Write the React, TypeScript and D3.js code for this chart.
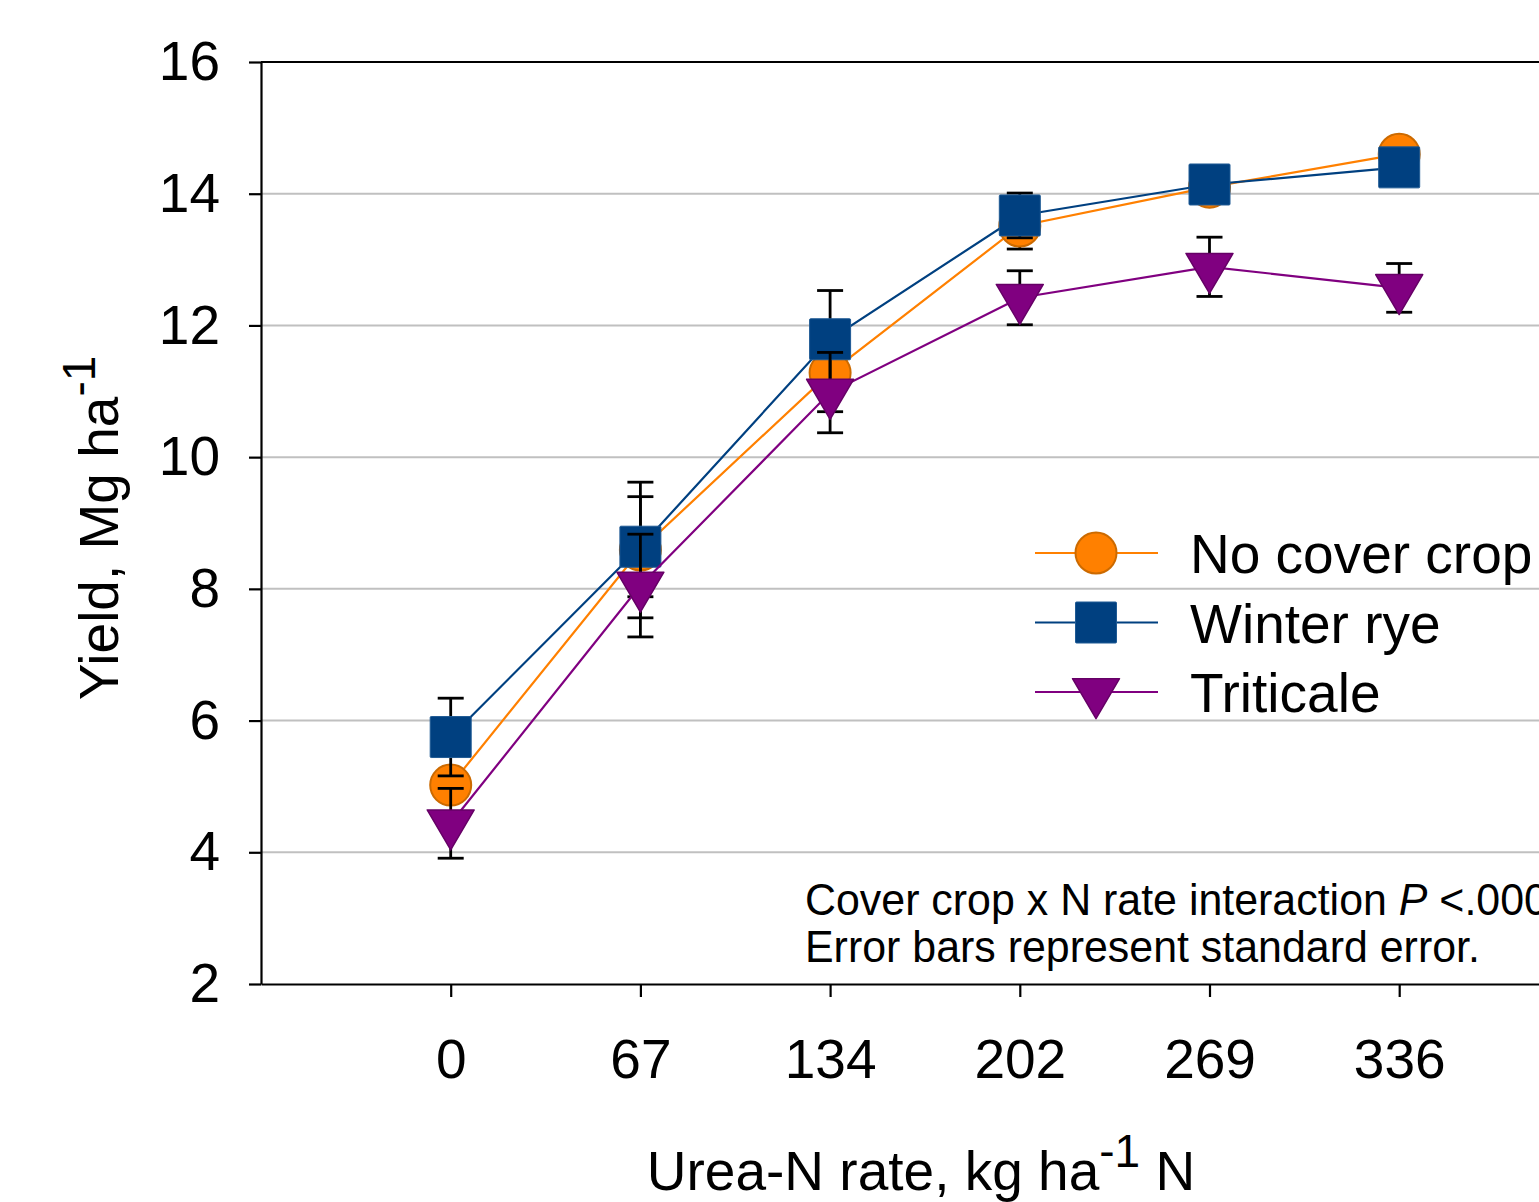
import React, { useRef, useEffect } from "react";
import * as d3 from "d3";

// N rates (kg ha-1 N) on the x axis
const rates = ["0", "67", "134", "202", "269", "336"];

// yield, Mg ha-1, with standard errors
const noCover = [5.02, 8.59, 11.28, 13.51, 14.1, 14.6];
const noCoverSE = [0.08, 1.03, 0.59, 0.35, 0.1, 0.1];
const winterRye = [5.75, 8.64, 11.79, 13.67, 14.14, 14.4];
const winterRyeSE = [0.59, 0.76, 0.74, 0.34, 0.12, 0.1];
const triticale = [4.44, 8.05, 10.98, 12.42, 12.89, 12.57];
const triticaleSE = [0.53, 0.78, 0.61, 0.41, 0.45, 0.37];

const yTicks = [2, 4, 6, 8, 10, 12, 14, 16];
const seriesNames = ["No cover crop", "Winter rye", "Triticale"];

const font = "'Liberation Sans', Arial, sans-serif";

const App = () => {
  const wrapper = useRef(null);
  const width = 1539;
  const height = 1202;
  const left = 261;
  const top = 62;
  const bottom = 984;
  const step = 189.7;

  useEffect(() => {
    d3.select(wrapper.current).selectAll("svg").remove();

    const svg = d3
      .select(wrapper.current)
      .append("svg")
      .attr("width", width)
      .attr("height", height)
      .style("position", "absolute")
      .style("left", 0)
      .style("top", 0)
      .style("background", "#fff");

    const x = d3
      .scalePoint()
      .domain(rates)
      .range([left, left + step * (rates.length + 1)])
      .padding(1);
    const right = left + step * (rates.length + 1);
    const y = d3.scaleLinear().domain([2, 16]).range([bottom, top]);

    // gridlines
    svg
      .append("g")
      .selectAll("line")
      .data(yTicks.filter((t) => t > 2 && t < 16))
      .enter()
      .append("line")
      .attr("x1", left)
      .attr("x2", right)
      .attr("y1", (d) => y(d))
      .attr("y2", (d) => y(d))
      .attr("stroke", "#c0c0c0")
      .attr("stroke-width", 2);

    // top border
    svg
      .append("line")
      .attr("x1", left)
      .attr("x2", right)
      .attr("y1", y(16))
      .attr("y2", y(16))
      .attr("stroke", "#000")
      .attr("stroke-width", 2);

    const yAxis = svg
      .append("g")
      .attr("transform", `translate(${left},0)`)
      .call(d3.axisLeft(y).tickValues(yTicks).tickSize(12).tickPadding(29).tickSizeOuter(0));
    yAxis.select(".domain").attr("stroke-width", 2.2);
    yAxis.selectAll(".tick line").attr("stroke-width", 2.2);
    yAxis
      .selectAll("text")
      .attr("font-family", font)
      .attr("font-size", 55)
      .attr("fill", "#000");

    const xAxis = svg
      .append("g")
      .attr("transform", `translate(0,${bottom})`)
      .call(d3.axisBottom(x).tickSize(13).tickPadding(42).tickSizeOuter(0));
    xAxis.select(".domain").attr("stroke-width", 2.2);
    xAxis.selectAll(".tick line").attr("stroke-width", 2.2);
    xAxis
      .selectAll("text")
      .attr("font-family", font)
      .attr("font-size", 55)
      .attr("fill", "#000");

    const series = [
      { name: seriesNames[0], values: noCover, se: noCoverSE, color: "#ff8000", edge: "#cc6a00", shape: "circle" },
      { name: seriesNames[1], values: winterRye, se: winterRyeSE, color: "#004080", edge: "#1f5a94", shape: "square" },
      { name: seriesNames[2], values: triticale, se: triticaleSE, color: "#800080", edge: "#660066", shape: "triangle" },
    ];

    const drawMarker = (g, shape, color, edge, cx, cy) => {
      if (shape === "circle") {
        g.append("circle")
          .attr("cx", cx)
          .attr("cy", cy)
          .attr("r", 20.5)
          .attr("fill", color)
          .attr("stroke", edge)
          .attr("stroke-width", 2);
      } else if (shape === "square") {
        g.append("rect")
          .attr("x", cx - 20.5)
          .attr("y", cy - 20.5)
          .attr("width", 41)
          .attr("height", 41)
          .attr("rx", 1)
          .attr("fill", color)
          .attr("stroke", edge)
          .attr("stroke-width", 1);
      } else {
        const h = 40;
        const w = 47;
        g.append("path")
          .attr(
            "d",
            `M${cx - w / 2},${cy - h / 3}L${cx + w / 2},${cy - h / 3}L${cx},${cy + (2 * h) / 3}Z`
          )
          .attr("fill", color)
          .attr("stroke", edge)
          .attr("stroke-width", 1.5)
          .attr("stroke-linejoin", "round");
      }
    };

    const line = d3
      .line()
      .x((d) => x(d[0]))
      .y((d) => y(d[1]));

    series.forEach((s) => {
      const g = svg.append("g");
      // error bars
      s.values.forEach((v, i) => {
        const cx = x(rates[i]);
        const y1 = y(v + s.se[i]);
        const y2 = y(v - s.se[i]);
        g.append("line")
          .attr("x1", cx)
          .attr("x2", cx)
          .attr("y1", y1)
          .attr("y2", y2)
          .attr("stroke", "#000")
          .attr("stroke-width", 2.8);
        [y1, y2].forEach((yy) => {
          g.append("line")
            .attr("x1", cx - 13)
            .attr("x2", cx + 13)
            .attr("y1", yy)
            .attr("y2", yy)
            .attr("stroke", "#000")
            .attr("stroke-width", 2.8);
        });
      });
      g.append("path")
        .datum(s.values.map((v, i) => [rates[i], v]))
        .attr("d", line)
        .attr("fill", "none")
        .attr("stroke", s.color)
        .attr("stroke-width", 2.2);
      s.values.forEach((v, i) => drawMarker(g, s.shape, s.color, s.edge, x(rates[i]), y(v)));
    });

    // legend
    const legend = svg.append("g");
    series.forEach((s, i) => {
      const ly = 553 + i * 69.5;
      legend
        .append("line")
        .attr("x1", 1035)
        .attr("x2", 1158)
        .attr("y1", ly)
        .attr("y2", ly)
        .attr("stroke", s.color)
        .attr("stroke-width", 2);
      drawMarker(legend, s.shape, s.color, s.edge, 1096, ly);
      legend
        .append("text")
        .attr("x", 1190)
        .attr("y", ly + 20)
        .attr("font-family", font)
        .attr("font-size", 55)
        .text(s.name);
    });

    // axis titles
    const yTitle = svg
      .append("text")
      .attr("transform", "translate(118,528) rotate(-90)")
      .attr("text-anchor", "middle")
      .attr("font-family", font)
      .attr("font-size", 55);
    yTitle.append("tspan").text("Yield, Mg ha");
    yTitle.append("tspan").attr("font-size", 46).attr("dy", -23).text("-1");

    const xTitle = svg
      .append("text")
      .attr("x", 921)
      .attr("y", 1190)
      .attr("text-anchor", "middle")
      .attr("font-family", font)
      .attr("font-size", 55);
    xTitle.append("tspan").text("Urea-N rate, kg ha");
    xTitle.append("tspan").attr("font-size", 46).attr("dy", -23).text("-1");
    xTitle.append("tspan").attr("dy", 23).text(" N");

    // note, condensed
    const note = svg.append("g").attr("font-family", "'Liberation Sans Narrow', 'Liberation Sans', Arial, sans-serif").attr("font-size", 44);
    const l1 = note.append("text").attr("x", 0).attr("y", 915);
    l1.append("tspan").text("Cover crop x N rate interaction ");
    l1.append("tspan").attr("font-style", "italic").text("P");
    l1.append("tspan").text(" <.0001");
    const l2 = note.append("text").attr("x", 0).attr("y", 962).text("Error bars represent standard error.");
    const len = l2.node().getComputedTextLength();
    const k = len > 0 ? 675 / len : 1;
    note.attr("transform", `translate(805,0) scale(${k},1)`);
  }, []);

  return <div ref={wrapper}></div>;
};

export default App;
